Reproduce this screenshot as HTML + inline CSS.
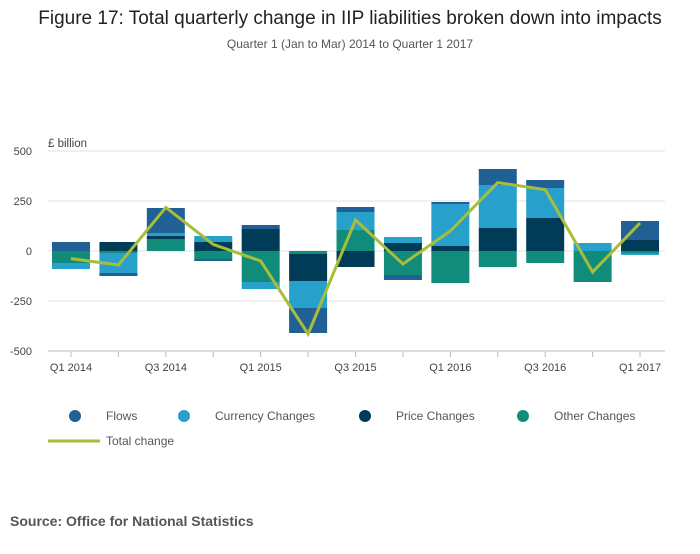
<!DOCTYPE html>
<html><head><meta charset="utf-8"><style>
body{margin:0;background:#fff;font-family:"Liberation Sans",sans-serif;}
svg text{font-family:"Liberation Sans",sans-serif;}
</style></head><body>
<svg width="700" height="549">
<text x="350" y="24" text-anchor="middle" font-size="19" fill="#222">Figure 17: Total quarterly change in IIP liabilities broken down into impacts</text>
<text x="350" y="48" text-anchor="middle" font-size="12" fill="#555">Quarter 1 (Jan to Mar) 2014 to Quarter 1 2017</text>
<text x="48" y="147" font-size="11.5" fill="#444">£ billion</text>
<g id="grid"></g><g id="bars"></g><g id="line"></g><g id="xaxis"></g>
<g>
<circle cx="75" cy="416" r="6" fill="#206095"/>
<text x="106" y="420" font-size="12" fill="#555">Flows</text>
<circle cx="184" cy="416" r="6" fill="#27a0cc"/>
<text x="215" y="420" font-size="12" fill="#555">Currency Changes</text>
<circle cx="365" cy="416" r="6" fill="#003c57"/>
<text x="396" y="420" font-size="12" fill="#555">Price Changes</text>
<circle cx="523" cy="416" r="6" fill="#118c7b"/>
<text x="554" y="420" font-size="12" fill="#555">Other Changes</text>
<line x1="48" y1="441" x2="100" y2="441" stroke="#a8bd3a" stroke-width="3"/>
<text x="106" y="445" font-size="12" fill="#555">Total change</text>
</g>
<text x="10" y="526" font-size="14" font-weight="bold" fill="#555">Source: Office for National Statistics</text>
</svg>
<script>
const categories=["Q1 2014","Q2 2014","Q3 2014","Q4 2014","Q1 2015","Q2 2015","Q3 2015","Q4 2015","Q1 2016","Q2 2016","Q3 2016","Q4 2016","Q1 2017"];
const flows=[45,-15,125,-10,20,-125,25,-25,10,80,40,0,95];
const currency=[-30,-100,15,30,-35,-135,90,30,210,215,150,40,-10];
const price=[0,45,15,45,110,-135,-80,40,25,115,165,0,55];
const other=[-60,-10,60,-40,-155,-15,105,-120,-160,-80,-60,-155,-10];
const total=[-38,-70,218,33,-50,-415,155,-65,100,342,307,-105,140];
const yTicks=[500,250,0,-250,-500];
const xLabelIdx=[0,2,4,6,8,10,12];

const NS="http://www.w3.org/2000/svg";
const y=v=>251-v*0.2;
const x=i=>71+i*47.42;
const bw=38;
function mk(tag,attrs,parent){const e=document.createElementNS(NS,tag);for(const k in attrs)e.setAttribute(k,attrs[k]);document.getElementById(parent).appendChild(e);return e;}
yTicks.forEach(t=>{
  const l=mk('line',{x1:48,x2:665,y1:y(t),y2:y(t),stroke:t===-500?'#bbb':'#e2e2e2','stroke-width':1},'grid');
  
  
  const tx=mk('text',{x:32,y:y(t)+4,'text-anchor':'end','font-size':11,fill:'#444'},'grid');tx.textContent=t;
  
  
});
const series=[["other",other,"#118c7b"],["price",price,"#003c57"],["currency",currency,"#27a0cc"],["flows",flows,"#206095"]];
categories.forEach((c,i)=>{
  let pos=0,neg=0;
  series.forEach(([n,arr,col])=>{
    const v=arr[i];if(!v)return;
    let a,b;
    if(v>0){a=pos;b=pos+v;pos=b;}else{a=neg;b=neg+v;neg=b;}
    const r=mk('rect',{x:x(i)-bw/2,y:Math.min(y(a),y(b)),width:bw,height:Math.abs(y(a)-y(b)),fill:col},'bars');
    
    
  });
  const tk=mk('line',{x1:x(i),x2:x(i),y1:352,y2:357,stroke:'#bbb'},'xaxis');
  
  
});
xLabelIdx.forEach(i=>{
  const t=mk('text',{x:x(i),y:371,'text-anchor':'middle','font-size':11,fill:'#444'},'xaxis');t.textContent=categories[i];
  
  
});
const p=mk('polyline',{points:total.map((v,i)=>x(i)+','+y(v)).join(' '),fill:'none',stroke:'#a8bd3a','stroke-width':3,'stroke-linejoin':'miter'},'line');


</script>
</body></html>
